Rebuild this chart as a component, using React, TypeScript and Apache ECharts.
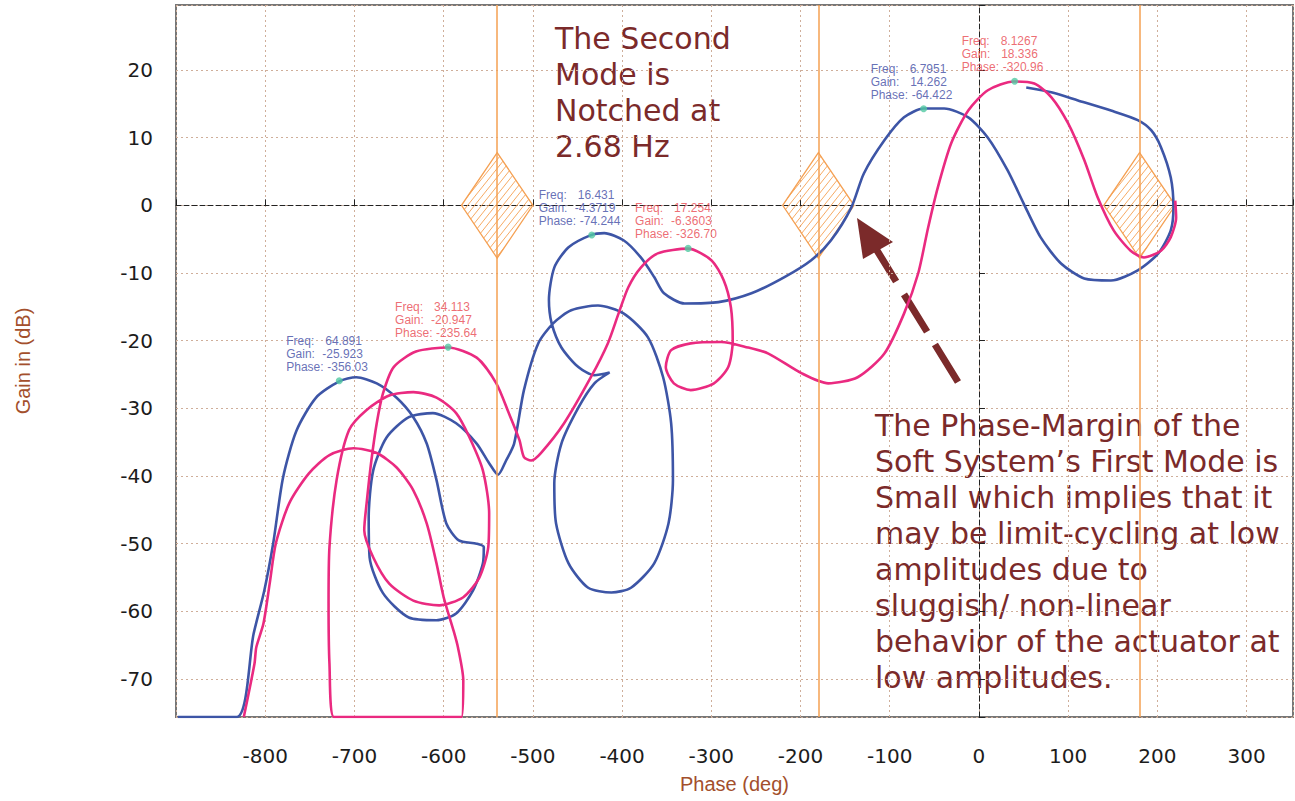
import React, { useEffect, useRef } from 'react';
import * as echarts from 'echarts';

// Axis extents (deg / dB)
const phaseMin = -900;
const phaseMax = 352;
const gainMin = -75.6;
const gainMax = 29.6;

// Blue curve (open loop, traced)
const bluePhase = [-898,-832,-813,-801,-791,-780,-765,-743,-717,-698,-675,-653,-634,-619,-608,-597,-583,-563,-555,-556,-567,-586,-608,-639,-668,-683,-684,-679,-664,-639,-612,-586,-563,-549,-539,-530,-521,-510,-494,-477,-457,-427,-398,-371,-354,-345,-343,-348,-364,-390,-412,-438,-460,-474,-476,-468,-449,-431,-414,-431,-449,-468,-479,-482,-476,-460,-435,-420,-398,-379,-364,-353,-330,-292,-255,-218,-188,-166,-143,-129,-106,-84,-62,-39,-12,10,32,50,69,92,118,148,178,201,215,218,215,204,193,178,148,111,81,53];
const blueGain = [-75.6,-75.6,-63.3,-56.9,-49.9,-40.2,-33.3,-28.4,-26.0,-25.4,-26.3,-28.4,-31.3,-35.2,-40.6,-47.0,-49.5,-50.0,-50.5,-52.9,-56.9,-60.3,-61.3,-60.9,-57.3,-52.0,-46.1,-39.2,-34.3,-31.3,-30.7,-32.2,-35.2,-38.1,-39.8,-37.7,-35.2,-27.3,-20.4,-17.4,-15.5,-14.8,-16.0,-19.5,-25.4,-32.2,-40.6,-47.0,-52.9,-56.5,-57.2,-56.5,-52.9,-47.0,-41.1,-35.2,-29.9,-26.3,-24.7,-25.1,-23.9,-21.0,-17.4,-14.0,-9.2,-6.2,-4.4,-4.1,-5.2,-7.7,-10.6,-13.0,-14.5,-14.3,-13.0,-10.6,-8.1,-5.2,-0.3,4.7,9.6,13.0,14.3,14.3,13.0,10.0,5.2,0.3,-4.7,-8.6,-10.8,-11.1,-9.6,-7.1,-3.7,-0.3,4.1,8.6,11.1,12.6,14.0,15.5,16.7,17.4];

// Pink curve
const pinkPhase = [-824,-812,-810,-802,-795,-788,-773,-751,-728,-701,-675,-653,-634,-619,-608,-600,-589,-584,-578,-580,-723,-728,-729,-728,-720,-706,-687,-661,-634,-608,-586,-571,-556,-549,-550,-560,-578,-605,-634,-661,-679,-689,-686,-681,-675,-668,-656,-631,-595,-563,-541,-527,-515,-510,-502,-491,-465,-435,-416,-404,-393,-379,-360,-326,-300,-286,-278,-276,-281,-297,-323,-342,-351,-345,-323,-289,-259,-236,-199,-169,-136,-106,-84,-68,-57,-46,-31,-12,10,39,62,81,100,118,133,151,170,185,204,215,221,220];
const pinkGain = [-75.6,-67.7,-65.3,-61.8,-55.9,-49.9,-44.0,-39.6,-36.9,-35.9,-36.6,-38.7,-42.1,-47.0,-52.9,-57.9,-62.8,-65.3,-70.2,-75.6,-75.6,-67.7,-58.8,-50.5,-40.6,-33.2,-30.3,-28.1,-27.6,-28.4,-30.7,-34.3,-39.2,-45.5,-50.5,-55.0,-57.9,-59.1,-58.4,-55.9,-52.0,-48.0,-43.6,-37.7,-32.2,-27.8,-23.9,-21.6,-21.0,-22.5,-26.3,-30.7,-34.7,-37.2,-37.7,-36.6,-32.2,-25.4,-20.4,-16.0,-12.1,-9.2,-7.1,-6.4,-8.1,-11.1,-15.1,-20.0,-23.9,-26.3,-27.3,-26.3,-23.9,-21.4,-20.4,-20.2,-21.0,-21.9,-24.8,-26.3,-25.4,-21.9,-16.0,-10.0,-3.3,2.7,9.2,14.0,17.0,18.3,18.0,16.0,12.1,6.7,1.2,-3.7,-6.7,-7.7,-6.7,-4.7,-1.8,0.7];

// Peak markers
const markerCurve = ['blue', 'pink', 'blue', 'pink', 'blue', 'pink'];
const markerPhase = [-717, -595, -434, -326, -62, 40];
const markerFreqText = ['64.891', '34.113', '16.431', '17.254', '6.7951', '8.1267'];
const markerGainText = ['-25.923', '-20.947', '-4.3719', '-6.3603', '14.262', '18.336'];
const markerPhaseText = ['-356.03', '-235.64', '-74.244', '-326.70', '-64.422', '-320.96'];

// Critical points (-1 point repetitions) and their diamonds
const criticalPhases = [-540, -180, 180];
const criticalGain = 0;
const diamondHalfPhase = 40;
const diamondHalfGain = 7.8;

const noteSecondMode = ['The Second', 'Mode is', 'Notched at', '2.68 Hz'];
const notePhaseMargin = [
  'The Phase-Margin of the',
  'Soft System\u2019s First Mode is',
  'Small which implies that it',
  'may be limit-cycling at low',
  'amplitudes due to',
  'sluggish/ non-linear',
  'behavior of the actuator at',
  'low amplitudes.',
];

const BLUE = '#3d55a6';
const PINK = '#ea2a80';
const ORANGE = '#f5a052';
const NOTE = '#7b2a2a';
const AXIS_TITLE = '#a34f2c';
const GRID_DOT = '#cfae9a';

function zip(a: number[], b: number[]) {
  const n = Math.min(a.length, b.length);
  const out: number[][] = [];
  for (let i = 0; i < n; i++) out.push([a[i], b[i]]);
  return out;
}

function renderDiamond(_params: any, api: any) {
  const cx = api.value(0);
  const cy = api.value(1);
  const c = api.coord([cx, cy]);
  const L = api.coord([cx - diamondHalfPhase, cy]);
  const R = api.coord([cx + diamondHalfPhase, cy]);
  const T = api.coord([cx, cy + diamondHalfGain]);
  const B = api.coord([cx, cy - diamondHalfGain]);
  const poly = [T, R, B, L];
  const children: any[] = [];
  const d0 = [1, -1.25];
  const dl = Math.hypot(d0[0], d0[1]);
  const d = [d0[0] / dl, d0[1] / dl];
  const n = [-d[1], d[0]];
  const span = Math.max(R[0] - L[0], B[1] - T[1]);
  for (let o = -span; o <= span; o += 5.5) {
    const q = [c[0] + n[0] * o, c[1] + n[1] * o];
    const ts: number[] = [];
    for (let i = 0; i < 4; i++) {
      const a = poly[i];
      const b = poly[(i + 1) % 4];
      const e = [b[0] - a[0], b[1] - a[1]];
      const den = d[0] * e[1] - d[1] * e[0];
      if (Math.abs(den) < 1e-9) continue;
      const w = [a[0] - q[0], a[1] - q[1]];
      const t = (w[0] * e[1] - w[1] * e[0]) / den;
      const s = (w[0] * d[1] - w[1] * d[0]) / den;
      if (s >= 0 && s <= 1) ts.push(t);
    }
    if (ts.length >= 2) {
      const t1 = Math.min(...ts);
      const t2 = Math.max(...ts);
      if (t2 - t1 > 0.5) {
        children.push({
          type: 'line',
          shape: { x1: q[0] + d[0] * t1, y1: q[1] + d[1] * t1, x2: q[0] + d[0] * t2, y2: q[1] + d[1] * t2 },
          style: { stroke: ORANGE, lineWidth: 0.9 },
        });
      }
    }
  }
  children.push({
    type: 'polygon',
    shape: { points: poly },
    style: { fill: 'none', stroke: ORANGE, lineWidth: 1.3 },
  });
  return { type: 'group', children };
}

function markerData(curve: string) {
  const out: any[] = [];
  for (let i = 0; i < markerPhase.length; i++) {
    if (markerCurve[i] !== curve) continue;
    out.push({
      value: [markerPhase[i], parseFloat(markerGainText[i])],
      freq: markerFreqText[i],
      gainText: markerGainText[i],
      phaseText: markerPhaseText[i],
    });
  }
  return out;
}

function markerSeries(curve: string, color: string) {
  return {
    type: 'scatter',
    data: markerData(curve),
    symbol: 'circle',
    symbolSize: 7,
    itemStyle: { color: '#52c9a2' },
    z: 6,
    silent: true,
    label: {
      show: true,
      position: [-49.5, -43],
      align: 'left',
      verticalAlign: 'top',
      color,
      fontFamily: 'Liberation Sans, Arial, sans-serif',
      fontSize: 12,
      lineHeight: 13,
      formatter: (p: any) => {
        const d = p.data;
        const gKey = d.gainText.charAt(0) === '-' ? 'kg' : 'kgp';
        return `{kf|Freq:}{v|${d.freq}}\n{${gKey}|Gain:}{v|${d.gainText}}\n{kp|Phase:}{v|${d.phaseText}}`;
      },
      rich: {
        kf: { width: 39, color, fontSize: 12, lineHeight: 13, fontFamily: 'Liberation Sans' },
        kg: { width: 36, color, fontSize: 12, lineHeight: 13, fontFamily: 'Liberation Sans' },
        kgp: { width: 39.5, color, fontSize: 12, lineHeight: 13, fontFamily: 'Liberation Sans' },
        kp: { width: 41, color, fontSize: 12, lineHeight: 13, fontFamily: 'Liberation Sans' },
        v: { color, fontSize: 12, lineHeight: 13, fontFamily: 'Liberation Sans' },
      },
    },
  };
}

export default function App() {
  const ref = useRef<HTMLDivElement>(null);

  useEffect(() => {
    if (!ref.current) return;
    const chart = echarts.init(ref.current, undefined, { renderer: 'svg' });
    const tickLabel = { color: '#1c1c1c', fontSize: 20, fontFamily: 'DejaVu Sans' };
    const splitLine = { show: true, lineStyle: { color: GRID_DOT, type: [2, 3] as any, width: 1 } };

    const option: any = {
      animation: false,
      backgroundColor: '#ffffff',
      grid: {
        left: 176,
        top: 5,
        width: 1117,
        height: 712,
        show: true,
        borderColor: '#777777',
        borderWidth: 2,
        backgroundColor: 'transparent',
      },
      xAxis: [
        {
          type: 'value',
          min: phaseMin,
          max: phaseMax,
          interval: 100,
          axisLine: { show: false, onZero: false },
          axisTick: { show: false },
          axisLabel: { ...tickLabel, margin: 29, showMinLabel: false, showMaxLabel: false },
          splitLine,
          name: 'Phase (deg)',
          nameLocation: 'middle',
          nameGap: 57,
          nameTextStyle: { color: AXIS_TITLE, fontSize: 20, fontFamily: 'Liberation Sans' },
        },
        {
          type: 'value',
          min: phaseMin,
          max: phaseMax,
          interval: 100,
          position: 'bottom',
          axisLine: { show: true, onZero: true, onZeroAxisIndex: 0, lineStyle: { color: '#222', width: 1, type: [5, 3] } },
          axisTick: { show: true, inside: true, length: 6, lineStyle: { color: '#222', width: 1 } },
          axisLabel: { show: false },
          splitLine: { show: false },
        },
      ],
      yAxis: [
        {
          type: 'value',
          min: gainMin,
          max: gainMax,
          splitNumber: 10,
          axisLine: { show: false, onZero: false },
          axisTick: { show: false },
          axisLabel: { ...tickLabel, margin: 23, showMinLabel: false, showMaxLabel: false },
          splitLine,
          name: 'Gain in (dB)',
          nameLocation: 'middle',
          nameGap: 143,
          nameRotate: 90,
          nameTextStyle: { color: AXIS_TITLE, fontSize: 20, fontFamily: 'Liberation Sans' },
        },
        {
          type: 'value',
          min: gainMin,
          max: gainMax,
          splitNumber: 10,
          position: 'left',
          axisLine: { show: true, onZero: true, onZeroAxisIndex: 0, lineStyle: { color: '#222', width: 1, type: [5, 3] } },
          axisTick: { show: true, inside: true, length: 6, lineStyle: { color: '#222', width: 1 } },
          axisLabel: { show: false },
          splitLine: { show: false },
        },
      ],
      series: [
        {
          type: 'custom',
          name: 'critical',
          renderItem: renderDiamond,
          data: criticalPhases.map((p) => [p, criticalGain]),
          encode: { x: 0, y: 1 },
          z: 3,
          silent: true,
          markLine: {
            silent: true,
            symbol: 'none',
            label: { show: false },
            lineStyle: { color: ORANGE, width: 1.5, type: 'solid' },
            data: criticalPhases.map((p) => ({ xAxis: p })),
          },
        },
        {
          type: 'line',
          name: 'blue',
          data: zip(bluePhase, blueGain),
          showSymbol: false,
          smooth: 0.25,
          lineStyle: { color: BLUE, width: 2.6 },
          itemStyle: { color: BLUE },
          z: 4,
          silent: true,
        },
        {
          type: 'line',
          name: 'pink',
          data: zip(pinkPhase, pinkGain),
          showSymbol: false,
          smooth: 0.25,
          lineStyle: { color: PINK, width: 2.6 },
          itemStyle: { color: PINK },
          z: 4,
          silent: true,
        },
        markerSeries('blue', '#3e4ba4'),
        markerSeries('pink', '#e8474f'),
      ],
      graphic: [
        {
          type: 'text',
          x: 555,
          y: 20,
          style: {
            text: noteSecondMode.join('\n'),
            fill: NOTE,
            fontSize: 30,
            fontFamily: 'DejaVu Sans',
            lineHeight: 36,
            align: 'left',
            verticalAlign: 'top',
          },
        },
        {
          type: 'text',
          x: 875,
          y: 407,
          style: {
            text: notePhaseMargin.join('\n'),
            fill: NOTE,
            fontSize: 30,
            fontFamily: 'DejaVu Sans',
            lineHeight: 36,
            align: 'left',
            verticalAlign: 'top',
          },
        },
        {
          type: 'line',
          shape: { x1: 958, y1: 382, x2: 873, y2: 244 },
          style: { stroke: NOTE, lineWidth: 7, lineDash: [44, 15] },
        },
        {
          type: 'polygon',
          shape: { points: [[857, 218], [893, 242], [863, 259]] },
          style: { fill: NOTE },
        },
      ],
    };
    chart.setOption(option);
    return () => chart.dispose();
  }, []);

  return (
    <div
      ref={ref}
      style={{ position: 'absolute', left: 0, top: 0, width: 1295, height: 801, background: '#fff' }}
    />
  );
}
